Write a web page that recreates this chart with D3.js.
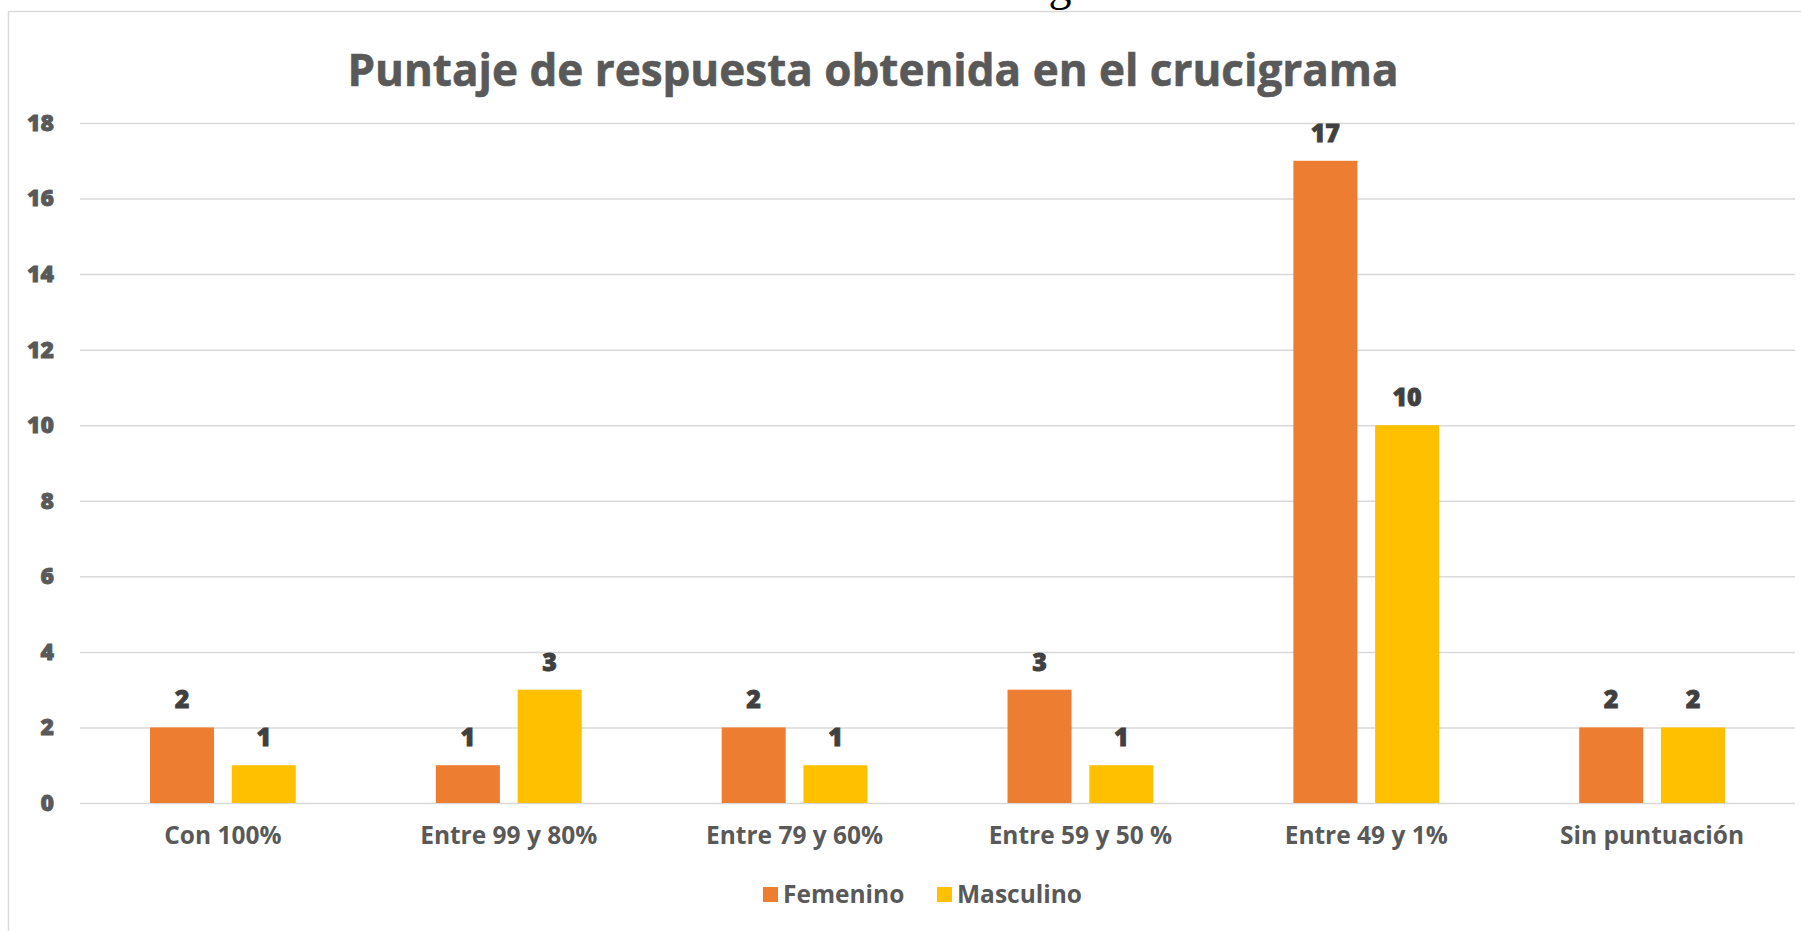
<!DOCTYPE html>
<html>
<head>
<meta charset="utf-8">
<script src="https://cdn.jsdelivr.net/npm/d3@7"></script>
<style>
  body { margin: 0; background: #fff; }
  text { font-family: "Open Sans", "Noto Sans", sans-serif; }
</style>
</head>
<body>
<div id="chart-area"></div>
<script>
const categories = ["Con 100%", "Entre 99 y 80%", "Entre 79 y 60%", "Entre 59 y 50 %", "Entre 49 y 1%", "Sin puntuación"]
const seriesNames = ["Femenino", "Masculino"]
const femenino = [2, 1, 2, 3, 17, 2]
const masculino = [1, 3, 1, 1, 10, 2]
const yTicks = [0, 2, 4, 6, 8, 10, 12, 14, 16, 18]
const colors = ["#ED7D31", "#FFC000"]

const W = 1801, H = 931
const PLOT = { LEFT: 80, RIGHT: 1795, TOP: 123, BOTTOM: 803 }

const data = categories.map((c, i) => ({ cat: c, values: [femenino[i], masculino[i]] }))

const svg = d3.select("#chart-area").append("svg")
    .attr("width", W)
    .attr("height", H)

// chart border
svg.append("rect")
    .attr("x", 8.5).attr("y", 11.5)
    .attr("width", W).attr("height", H)
    .attr("fill", "none")
    .attr("stroke", "#D9D9D9")
    .attr("stroke-width", 1.5)

// bit of text from above the chart, cut off like in the screenshot
svg.append("text")
    .attr("x", 1060).attr("y", 0)
    .attr("text-anchor", "middle")
    .style("font-family", "'Liberation Serif', serif")
    .attr("font-size", "46px")
    .attr("fill", "#000")
    .text("g")

// title
svg.append("text")
    .attr("x", 873).attr("y", 86)
    .attr("text-anchor", "middle")
    .attr("font-size", "44px")
    .attr("font-weight", "bold")
    .attr("fill", "#595959")
    .attr("stroke", "#595959")
    .attr("stroke-width", 0.6)
    .text("Puntaje de respuesta obtenida en el crucigrama")

const x0 = d3.scaleBand()
    .domain(categories)
    .range([PLOT.LEFT, PLOT.RIGHT])
    .paddingInner(0.49)
    .paddingOuter(0.245)

const x1 = d3.scaleBand()
    .domain(seriesNames)
    .range([0, x0.bandwidth()])
    .paddingInner(0.217)

const y = d3.scaleLinear()
    .domain([0, 18])
    .range([PLOT.BOTTOM, PLOT.TOP])

// gridlines + y labels
const yAxis = d3.axisLeft(y)
    .tickValues(yTicks)
    .tickSize(-(PLOT.RIGHT - PLOT.LEFT))
    .tickPadding(26)
const yg = svg.append("g")
    .attr("class", "y axis")
    .attr("transform", `translate(${PLOT.LEFT}, 0)`)
    .call(yAxis)
yg.select(".domain").remove()
yg.selectAll("line").attr("stroke", "#D9D9D9").attr("stroke-width", 1.5)
yg.selectAll("text")
    .attr("font-size", "23px")
    .attr("font-weight", "800")
    .attr("fill", "#595959")
    .attr("stroke", "#595959")
    .attr("stroke-width", 0.8)
    .style("font-family", "'Open Sans', sans-serif")

// x labels
const xAxis = d3.axisBottom(x0).tickSize(0).tickPadding(24)
const xg = svg.append("g")
    .attr("class", "x axis")
    .attr("transform", `translate(0, ${PLOT.BOTTOM})`)
    .call(xAxis)
xg.select(".domain").remove()
xg.selectAll("text")
    .attr("font-size", "24.5px")
    .attr("font-weight", "bold")
    .attr("fill", "#595959")
    .style("font-family", "'Open Sans', sans-serif")

// bars
const groups = svg.selectAll("g.grp")
    .data(data)
    .enter().append("g")
    .attr("class", "grp")
    .attr("transform", d => `translate(${x0(d.cat)}, 0)`)

const items = d => d.values.map((v, i) => ({ name: seriesNames[i], v: v, i: i }))

groups.selectAll("rect")
    .data(items)
    .enter().append("rect")
    .attr("x", d => x1(d.name))
    .attr("y", d => y(d.v))
    .attr("width", x1.bandwidth())
    .attr("height", d => y(0) - y(d.v))
    .attr("fill", d => colors[d.i])

groups.selectAll("text.lbl")
    .data(items)
    .enter().append("text")
    .attr("class", "lbl")
    .attr("x", d => x1(d.name) + x1.bandwidth() / 2)
    .attr("y", d => y(d.v) - 19)
    .attr("text-anchor", "middle")
    .attr("font-size", "25px")
    .attr("font-weight", "800")
    .attr("fill", "#404040")
    .attr("stroke", "#404040")
    .attr("stroke-width", 0.8)
    .text(d => d.v)

// legend
const legendX = [763, 937]
const lg = svg.selectAll("g.legend")
    .data(seriesNames)
    .enter().append("g")
    .attr("class", "legend")
    .attr("transform", (d, i) => `translate(${legendX[i]}, 887)`)
lg.append("rect")
    .attr("width", 15).attr("height", 15)
    .attr("fill", (d, i) => colors[i])
lg.append("text")
    .attr("x", 20).attr("y", 15.5)
    .attr("font-size", "24.5px")
    .attr("font-weight", "bold")
    .attr("fill", "#595959")
    .text(d => d)
</script>
</body>
</html>
